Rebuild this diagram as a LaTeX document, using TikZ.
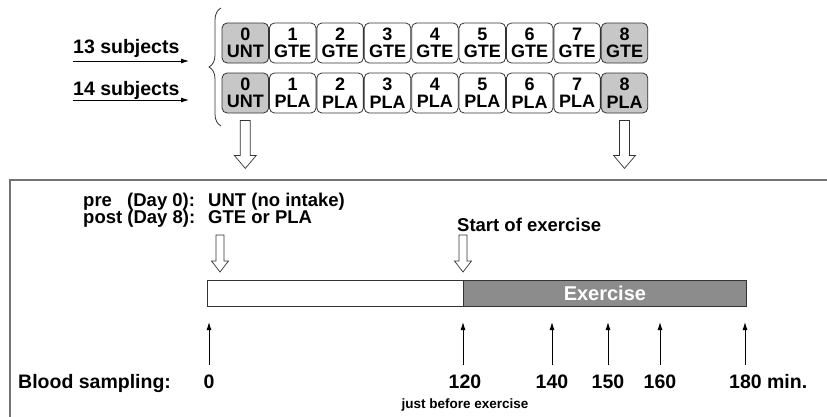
\documentclass[tikz,border=0pt]{standalone}
\usepackage{fontspec}
\setmainfont{Liberation Sans}
\usetikzlibrary{decorations.pathreplacing,arrows.meta}

\newcommand{\bfsz}[1]{\fontsize{#1}{#1}\selectfont\bfseries}

\tikzset{
    daybox/.style={draw=black!80, line width=0.8pt, rounded corners=5pt, fill=white,
        minimum width=46.5pt, minimum height=40pt, inner sep=0pt, align=center,
        font=\fontsize{18}{17.5}\selectfont\bfseries},
    graybox/.style={daybox, fill=black!22},
    hollow/.style={draw=black!80, fill=white, line width=0.7pt, line join=miter},
    lbl/.style={anchor=base west, inner sep=0pt, font=\bfsz{18.5}},
    num/.style={anchor=base, inner sep=0pt, font=\bfsz{19.5}},
    tick/.style={-{Latex[length=8pt,width=5pt]}, line width=0.9pt},
}

\begin{document}
\begin{tikzpicture}[x=1pt,y=-1pt]
        \useasboundingbox (0,0) rectangle (827,416);

        % groups
        \node [lbl, font=\bfsz{19.5}] (grpGTE) at (73,53) {13 subjects};
        \node [lbl, font=\bfsz{19.5}] (grpPLA) at (73,95) {14 subjects};
        \coordinate (grpGTEa) at (73,61);
        \coordinate (grpGTEb) at (189,61);
        \coordinate (grpPLAa) at (73,100);
        \coordinate (grpPLAb) at (189,100);
        \draw [tick] (grpGTEa) -- (grpGTEb);
        \draw [tick] (grpPLAa) -- (grpPLAb);

        \coordinate (braceBot) at (221,126);
        \coordinate (braceTop) at (221,8);
        \draw [decorate, decoration={brace, amplitude=12pt}, line width=0.8pt, black!80] (braceBot) -- (braceTop);

        % days, GTE row
        \node [graybox] (g0) at (245.3,43) {0\\UNT};
        \node [daybox] (g1) at (292.7,43) {1\\GTE};
        \node [daybox] (g2) at (340.1,43) {2\\GTE};
        \node [daybox] (g3) at (387.5,43) {3\\GTE};
        \node [daybox] (g4) at (434.9,43) {4\\GTE};
        \node [daybox] (g5) at (482.3,43) {5\\GTE};
        \node [daybox] (g6) at (529.7,43) {6\\GTE};
        \node [daybox] (g7) at (577.1,43) {7\\GTE};
        \node [graybox] (g8) at (624.5,43) {8\\GTE};

        % days, PLA row
        \node [graybox] (p0) at (245.3,93) {0\\UNT};
        \node [daybox] (p1) at (292.7,93) {1\\PLA};
        \node [daybox] (p2) at (340.1,93) {2\\PLA};
        \node [daybox] (p3) at (387.5,93) {3\\PLA};
        \node [daybox] (p4) at (434.9,93) {4\\PLA};
        \node [daybox] (p5) at (482.3,93) {5\\PLA};
        \node [daybox] (p6) at (529.7,93) {6\\PLA};
        \node [daybox] (p7) at (577.1,93) {7\\PLA};
        \node [graybox] (p8) at (624.5,93) {8\\PLA};

        % open arrows down to the trial days
        \draw [hollow] (p0.south) ++(-5,7) -- ++(0,35) -- ++(-6,0) -- ++(11,13) -- ++(11,-13) -- ++(-6,0) -- ++(0,-35) -- cycle;
        \draw [hollow] (p8.south) ++(-5,7) -- ++(0,35) -- ++(-6,0) -- ++(11,13) -- ++(11,-13) -- ++(-6,0) -- ++(0,-35) -- cycle;

        % trial day panel
        \draw [black!55, line width=1.2pt] (10,418) -- (10,180) -- (829,180);

        \node [lbl] (preA) at (83,206) {pre};
        \node [lbl] (preB) at (127,206) {(Day 0):};
        \node [lbl] (preC) at (208,206) {UNT (no intake)};
        \node [lbl] (postA) at (83,223) {post (Day 8):};
        \node [lbl] (postC) at (208,223) {GTE or PLA};
        \node [lbl] (startEx) at (457,231) {Start of exercise};

        \draw [hollow] (216,235) -- ++(0,26) -- ++(-4.5,0) -- ++(8.5,11) -- ++(8.5,-11) -- ++(-4.5,0) -- ++(0,-26) -- cycle;
        \draw [hollow] (459,235) -- ++(0,26) -- ++(-4.5,0) -- ++(8.5,11) -- ++(8.5,-11) -- ++(-4.5,0) -- ++(0,-26) -- cycle;

        \node [draw=black!80, line width=0.8pt, fill=white, anchor=north west, inner sep=0pt,
            minimum width=256pt, minimum height=26pt] (restBar) at (207,280) {};
        \node [draw=black!80, line width=0.8pt, fill=black!45, anchor=north west, inner sep=0pt,
            minimum width=283pt, minimum height=26pt, text=white, font=\bfsz{20}] (exBar) at (463,280) {Exercise};

        % blood sampling
        \node [lbl, font=\bfsz{19.5}] (blood) at (18,388) {Blood sampling:};
        \node [num] (t0) at (209,388) {0};
        \node [num] (t120) at (465,388) {120};
        \node [num] (t140) at (552,388) {140};
        \node [num] (t150) at (608,388) {150};
        \node [num] (t160) at (660,388) {160};
        \node [num, anchor=base west] (t180) at (729,388) {180 min.};
        \node [font=\bfsz{13.5}, inner sep=0pt] (justBefore) at (465,405) {just before exercise};

        \coordinate (s0a) at (209,365);   \coordinate (s0b) at (209,322);
        \coordinate (s120a) at (463,365); \coordinate (s120b) at (463,322);
        \coordinate (s140a) at (552,365); \coordinate (s140b) at (552,322);
        \coordinate (s150a) at (608,365); \coordinate (s150b) at (608,322);
        \coordinate (s160a) at (660,365); \coordinate (s160b) at (660,322);
        \coordinate (s180a) at (745,365); \coordinate (s180b) at (745,322);
        \draw [tick] (s0a) -- (s0b);
        \draw [tick] (s120a) -- (s120b);
        \draw [tick] (s140a) -- (s140b);
        \draw [tick] (s150a) -- (s150b);
        \draw [tick] (s160a) -- (s160b);
        \draw [tick] (s180a) -- (s180b);

    \end{tikzpicture}
\end{document}
